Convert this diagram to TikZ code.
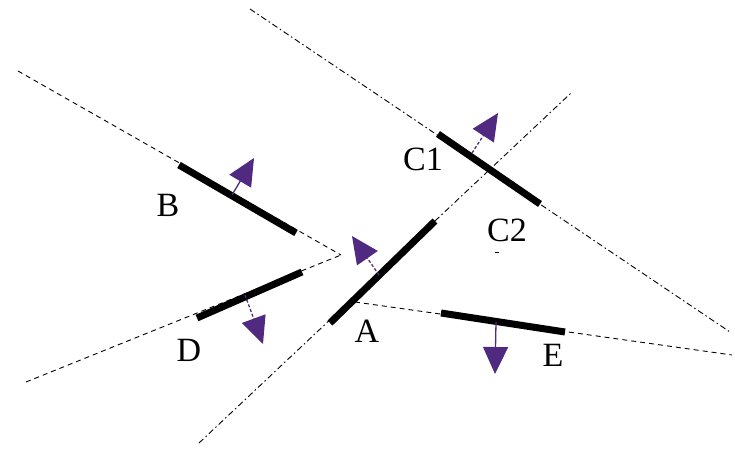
\documentclass[tikz,border=0pt]{standalone}
\usepackage{fontspec}
\setmainfont{Liberation Serif}
\usetikzlibrary{arrows.meta,calc}
\definecolor{normalpurple}{RGB}{80,42,128}
\tikzset{
  guide/.style={black, line width=0.9pt, dash pattern=on 5pt off 4pt},
  guidedot/.style={black, line width=0.9pt, dash pattern=on 6pt off 3pt on 1.5pt off 3pt},
  wall/.style={black, line width=7pt},
  normal/.style={normalpurple, line width=1.3pt, -{Triangle[length=27pt,width=25pt]}},
  lbl/.style={font=\fontsize{34}{36}\selectfont, inner sep=0pt}
}
\begin{document}
\begin{tikzpicture}[x=1pt,y=-1pt]
  \useasboundingbox (0,0) rectangle (735,449);
  % End points of the guide lines
  \coordinate (A0) at (199,443); \coordinate (A1) at (571,93);
  \coordinate (C0) at (250,9);   \coordinate (C1) at (730,332);
  \coordinate (B0) at (18,71);   \coordinate (tip) at (341,255);
  \coordinate (D0) at (26,382);
  \coordinate (E0) at (355,302); \coordinate (E1) at (732,355);
  % Guide lines
  \draw[guidedot] (A0) -- (A1);
  \draw[guidedot] (C0) -- (C1);
  \draw[guide] (B0) -- (tip);
  \draw[guide] (D0) -- (tip);
  \draw[guide] (E0) -- (E1);
  % Thick segments
  \draw[wall] (330,323) coordinate (wa0) -- (435,221) coordinate (wa1);
  \draw[wall] (438,134) coordinate (wc0) -- (540,204) coordinate (wc1);
  \draw[wall] (179,165) coordinate (wb0) -- (296,233) coordinate (wb1);
  \draw[wall] (197,318) coordinate (wd0) -- (302,272) coordinate (wd1);
  \draw[wall] (441,313) coordinate (we0) -- (565,332) coordinate (we1);
  % Normals
  \coordinate (nB0) at (232,195); \coordinate (nB1) at (254,158);
  \coordinate (nA0) at (379,275); \coordinate (nA1) at (352,236);
  \coordinate (nC0) at (472,153); \coordinate (nC1) at (498,113);
  \coordinate (nD0) at (245,295); \coordinate (nD1) at (263,344);
  \coordinate (nE0) at (496,322); \coordinate (nE1) at (495,374);
  \draw[normal] (nB0) -- (nB1);
  \draw[normal, densely dashed] (nA0) -- (nA1);
  \draw[normal, densely dashed] (nC0) -- (nC1);
  \draw[normal, densely dashed] (nD0) -- (nD1);
  \draw[normal] (nE0) -- (nE1);
  % Labels
  \node[lbl] (labB) at (168,205) {B};
  \node[lbl] (labC1) at (423,159) {C1};
  \node[lbl] (labC2) at (507,230) {C2};
  \node[lbl] (labA) at (367,331) {A};
  \node[lbl] (labD) at (189,350) {D};
  \node[lbl] (labE) at (553,355) {E};
  \draw[line width=1pt] (495,252) -- (499,252);
\end{tikzpicture}
\end{document}
